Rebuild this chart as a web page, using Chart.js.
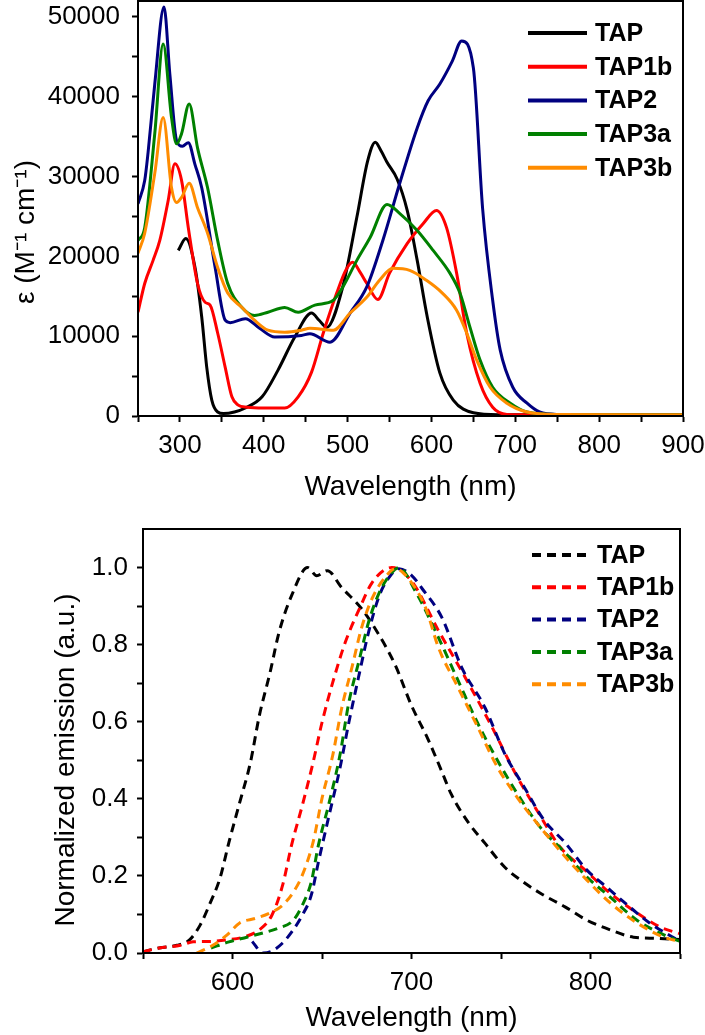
<!DOCTYPE html>
<html>
<head>
<meta charset="utf-8">
<script src="https://cdn.jsdelivr.net/npm/chart.js@4.4.1/dist/chart.umd.min.js"></script>
<style>
  html, body { margin: 0; padding: 0; background: #fff; }
  #wrap { position: relative; width: 705px; height: 1035px; }
  #absChart { position: absolute; left: 0; top: 0; }
  #emChart { position: absolute; left: 0; top: 520px; }
</style>
</head>
<body>
<div id="wrap">
  <canvas id="absChart" width="705" height="520"></canvas>
  <canvas id="emChart" width="705" height="515"></canvas>
</div>
<script>
// --- absorpcia (horny graf) ---
const names = ['TAP', 'TAP1b', 'TAP2', 'TAP3a', 'TAP3b'];
const colors = ['#000000', '#ff0000', '#000080', '#008000', '#ff8c00'];

const tapX = [298, 307, 318, 326, 332, 338, 345, 352, 365, 378, 398, 417, 437, 457, 466, 475, 494, 511, 524, 533, 540, 547, 559, 571, 583, 595, 610, 626, 650, 680, 750, 900];
const tapY = [20750, 22250, 18600, 12400, 6100, 2000, 500, 300, 500, 1000, 2400, 5750, 9900, 12900, 12000, 11100, 16100, 24900, 32000, 34300, 33200, 31800, 29700, 25800, 19500, 12400, 5400, 2000, 400, 150, 150, 150];

const tap1bX = [250, 258, 268, 276, 286, 294, 302, 310, 321, 330, 336, 345, 354, 362, 369, 380, 400, 425, 441, 457, 471, 487, 498, 506, 515, 523, 536, 550, 571, 590, 606, 618, 630, 642, 658, 673, 690, 720, 900];
const tap1bY = [13000, 16600, 19500, 22000, 27000, 31600, 29500, 23600, 16600, 14250, 13900, 10400, 6100, 2400, 1400, 1100, 1000, 1000, 2400, 5500, 10400, 15400, 18300, 19250, 18000, 16600, 14600, 17900, 21600, 24100, 25750, 23600, 17900, 10400, 4100, 1100, 200, 150, 150];

const tap2X = [250, 258, 262, 270, 281, 288, 296, 303, 310, 318, 326, 342, 354, 360, 378, 395, 413, 445, 455, 479, 503, 523, 542, 562, 583, 596, 610, 625, 636, 650, 661, 673, 682, 697, 714, 729, 750, 900];
const tap2Y = [26600, 29500, 33000, 41600, 51250, 42800, 34500, 33800, 34250, 31500, 28600, 18600, 12000, 11700, 12200, 11000, 9900, 10100, 10300, 9250, 12900, 16200, 22000, 29100, 36100, 39500, 41600, 44500, 47000, 43600, 26000, 14500, 8250, 3600, 1600, 500, 200, 150];

const tap3aX = [250, 258, 270, 280, 290, 296, 302, 311, 321, 333, 345, 357, 374, 389, 405, 425, 441, 461, 483, 494, 511, 527, 547, 562, 583, 602, 622, 634, 646, 658, 673, 694, 714, 750, 900];
const tap3aY = [22000, 23600, 35400, 46600, 37400, 34100, 35400, 39100, 33600, 28600, 22000, 16600, 13600, 12600, 13000, 13600, 13000, 13900, 14500, 16100, 19500, 22400, 26500, 25400, 23250, 20750, 17900, 15400, 11100, 7000, 3600, 1600, 500, 200, 150];

const tap3bX = [250, 258, 270, 280, 290, 296, 302, 311, 321, 333, 345, 357, 374, 389, 405, 425, 445, 455, 483, 503, 523, 538, 554, 574, 594, 613, 630, 642, 654, 670, 690, 714, 750, 900];
const tap3bY = [20400, 22900, 30400, 37400, 28600, 26750, 27400, 29150, 26100, 22900, 18600, 15400, 13600, 12000, 10750, 10500, 10750, 11000, 10750, 12900, 14900, 17000, 18500, 18250, 17000, 15400, 13250, 10400, 7000, 3600, 1600, 500, 200, 150];

// --- emisia (dolny graf) ---
const emTapX = [550, 559, 569, 576, 582, 587, 593, 598, 604, 610, 615, 621, 626, 633, 642, 647, 653, 661, 672, 682, 691, 700, 709, 717, 722, 732, 741, 752, 761, 772, 786, 798, 811, 824, 837, 850];
const emTapY = [0.003, 0.013, 0.02, 0.034, 0.073, 0.124, 0.194, 0.287, 0.39, 0.494, 0.616, 0.728, 0.832, 0.927, 1.0, 0.979, 0.992, 0.948, 0.894, 0.824, 0.746, 0.642, 0.557, 0.47, 0.414, 0.337, 0.285, 0.223, 0.189, 0.155, 0.119, 0.085, 0.06, 0.041, 0.038, 0.035];

const em1bX = [550, 559, 571, 578, 587, 597, 606, 615, 622, 628, 633, 639, 645, 650, 656, 663, 671, 678, 689, 700, 715, 730, 745, 758, 771, 783, 797, 811, 826, 839, 850];
const em1bY = [0.003, 0.013, 0.02, 0.029, 0.03, 0.034, 0.041, 0.06, 0.098, 0.176, 0.28, 0.383, 0.494, 0.598, 0.702, 0.806, 0.894, 0.961, 1.0, 0.965, 0.837, 0.715, 0.586, 0.466, 0.363, 0.275, 0.215, 0.155, 0.104, 0.067, 0.05];

const em2X = [611, 617, 622, 628, 633, 639, 644, 648, 654, 660, 665, 671, 676, 682, 687, 693, 700, 706, 717, 728, 741, 752, 763, 774, 786, 798, 809, 822, 833, 850];
const em2Y = [0.03, 0.0, 0.005, 0.026, 0.054, 0.098, 0.15, 0.236, 0.358, 0.479, 0.598, 0.728, 0.832, 0.927, 0.971, 0.997, 0.98, 0.945, 0.87, 0.741, 0.637, 0.518, 0.43, 0.345, 0.285, 0.215, 0.171, 0.119, 0.078, 0.03];

const em3aX = [588, 598, 608, 617, 626, 634, 639, 644, 648, 654, 660, 665, 671, 676, 682, 689, 693, 702, 715, 726, 737, 748, 759, 772, 786, 798, 811, 826, 841, 850];
const em3aY = [0.013, 0.029, 0.041, 0.052, 0.065, 0.085, 0.124, 0.184, 0.28, 0.39, 0.513, 0.65, 0.764, 0.858, 0.935, 0.987, 1.0, 0.94, 0.819, 0.707, 0.596, 0.5, 0.414, 0.326, 0.259, 0.197, 0.145, 0.085, 0.047, 0.03];

const em3bX = [580, 589, 597, 604, 613, 621, 628, 634, 639, 645, 650, 656, 661, 667, 672, 678, 686, 691, 700, 708, 715, 726, 737, 748, 759, 772, 786, 798, 811, 826, 841, 850];
const em3bY = [0.0, 0.02, 0.047, 0.078, 0.09, 0.104, 0.124, 0.158, 0.202, 0.287, 0.401, 0.513, 0.635, 0.746, 0.842, 0.92, 0.979, 0.997, 0.961, 0.894, 0.793, 0.689, 0.586, 0.482, 0.404, 0.326, 0.249, 0.189, 0.13, 0.078, 0.041, 0.03];

Chart.defaults.font.family = '"Liberation Sans", Arial, sans-serif';
Chart.defaults.color = '#000';

const toPoints = (xs, ys) => xs.map((x, i) => ({ x: x, y: ys[i] }));

function makeDatasets(series, dashed) {
    return series.map((s, i) => ({
        label: names[i],
        data: toPoints(s[0], s[1]),
        borderColor: colors[i],
        borderWidth: 3,
        borderDash: dashed ? [9, 6] : [],
        pointRadius: 0,
        fill: false,
        cubicInterpolationMode: 'monotone',
        order: names.length - i // neskorsie datasety navrchu
    }));
}

// ram okolo grafu, legenda a nazvy osi
const framePlugin = {
    id: 'frame',
    afterDraw(chart, args, opts) {
        const ctx = chart.ctx;
        const a = chart.chartArea;
        ctx.save();
        ctx.strokeStyle = '#000';
        ctx.lineWidth = 2;
        ctx.strokeRect(a.left, a.top, a.right - a.left, a.bottom - a.top);

        // legenda
        const lg = opts.legend;
        chart.data.datasets.forEach((ds, i) => {
            const y = lg.y0 + i * lg.dy;
            ctx.beginPath();
            ctx.setLineDash(ds.borderDash || []);
            ctx.strokeStyle = ds.borderColor;
            ctx.lineWidth = 4;
            ctx.moveTo(lg.x1, y);
            ctx.lineTo(lg.x2, y);
            ctx.stroke();
            ctx.setLineDash([]);
            ctx.fillStyle = '#000';
            ctx.font = 'bold 25px "Liberation Sans", Arial, sans-serif';
            ctx.textAlign = 'left';
            ctx.textBaseline = 'middle';
            ctx.fillText(ds.label, lg.tx, y + 1);
        });

        // nazvy osi
        ctx.fillStyle = '#000';
        ctx.font = '28px "Liberation Sans", Arial, sans-serif';
        ctx.textAlign = 'center';
        ctx.textBaseline = 'middle';
        ctx.fillText(opts.xTitle, (a.left + a.right) / 2, opts.xTitleY);
        ctx.translate(opts.yTitleX, opts.yTitleY);
        ctx.rotate(-Math.PI / 2);
        ctx.fillText(opts.yTitle, 0, 0);
        ctx.restore();
    }
};

// nech popisky osi neposuvaju plochu grafu
function noOverflow(s) {
    s.paddingTop = 0; s.paddingBottom = 0; s.paddingLeft = 0; s.paddingRight = 0;
}

function axisCommon() {
    return {
        grid: { display: true, drawOnChartArea: false, drawTicks: true, tickLength: 6, tickWidth: 2, tickColor: '#000' },
        border: { display: true, color: '#000', width: 2 }
    };
}

function stepTicks(min, max, step) {
    const t = [];
    for (let v = min; v <= max + 1e-9; v += step) t.push({ value: Math.round(v * 1000) / 1000 });
    return t;
}

// horny graf - absorpcne spektra
new Chart(document.getElementById('absChart'), {
    type: 'line',
    data: {
        datasets: makeDatasets([[tapX, tapY], [tap1bX, tap1bY], [tap2X, tap2Y], [tap3aX, tap3aY], [tap3bX, tap3bY]], false)
    },
    options: {
        responsive: false, animation: false, devicePixelRatio: 1,
        layout: { padding: { top: 1, right: 22, left: 0, bottom: 0 } },
        plugins: {
            legend: { display: false }, tooltip: { enabled: false },
            frame: {
                legend: { x1: 528, x2: 587, tx: 595, y0: 33, dy: 33.7 },
                xTitle: 'Wavelength (nm)', xTitleY: 487,
                yTitle: 'ε (M⁻¹ cm⁻¹)', yTitleX: 26, yTitleY: 232
            }
        },
        scales: {
            x: {
                type: 'linear', min: 250, max: 900,
                ...axisCommon(),
                afterFit: s => { s.height = 104; noOverflow(s); },
                afterBuildTicks: s => { s.ticks = stepTicks(250, 900, 50); },
                ticks: {
                    autoSkip: false, maxRotation: 0, padding: 8, font: { size: 26 },
                    callback: v => (v % 100 === 0 ? String(v) : '')
                }
            },
            y: {
                type: 'linear', min: 0, max: 52000,
                ...axisCommon(),
                afterFit: s => { s.width = 138; noOverflow(s); },
                afterBuildTicks: s => { s.ticks = stepTicks(0, 50000, 5000); },
                ticks: {
                    autoSkip: false, padding: 12, font: { size: 26 },
                    callback: v => (v % 10000 === 0 ? String(v) : '')
                }
            }
        }
    },
    plugins: [framePlugin]
});

// dolny graf - emisne spektra
new Chart(document.getElementById('emChart'), {
    type: 'line',
    data: {
        datasets: makeDatasets([[emTapX, emTapY], [em1bX, em1bY], [em2X, em2Y], [em3aX, em3aY], [em3bX, em3bY]], true)
    },
    options: {
        responsive: false, animation: false, devicePixelRatio: 1,
        layout: { padding: { top: 9, right: 25, left: 0, bottom: 0 } },
        plugins: {
            legend: { display: false }, tooltip: { enabled: false },
            frame: {
                legend: { x1: 532, x2: 590, tx: 597, y0: 35, dy: 32.3 },
                xTitle: 'Wavelength (nm)', xTitleY: 498,
                yTitle: 'Normalized emission (a.u.)', yTitleX: 66, yTitleY: 240
            }
        },
        scales: {
            x: {
                type: 'linear', min: 550, max: 850,
                ...axisCommon(),
                afterFit: s => { s.height = 82; noOverflow(s); },
                afterBuildTicks: s => { s.ticks = stepTicks(550, 850, 50); },
                ticks: {
                    autoSkip: false, maxRotation: 0, padding: 8, font: { size: 26 },
                    callback: v => (v % 100 === 0 ? String(v) : '')
                }
            },
            y: {
                type: 'linear', min: 0, max: 1.1,
                ...axisCommon(),
                afterFit: s => { s.width = 143; noOverflow(s); },
                afterBuildTicks: s => { s.ticks = stepTicks(0, 1.0, 0.1); },
                ticks: {
                    autoSkip: false, padding: 9, font: { size: 26 },
                    callback: v => (Math.round(v * 10) % 2 === 0 ? v.toFixed(1) : '')
                }
            }
        }
    },
    plugins: [framePlugin]
});
</script>
</body>
</html>
